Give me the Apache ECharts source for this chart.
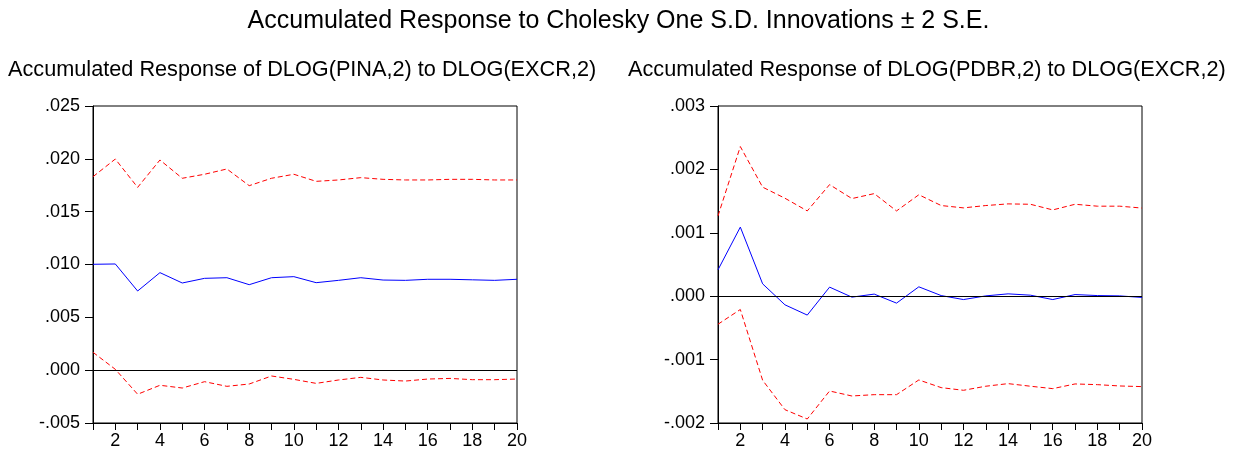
<!DOCTYPE html>
<html>
<head>
<meta charset="utf-8">
<script src="https://cdn.jsdelivr.net/npm/echarts@6/dist/echarts.min.js"></script>
<style>
  html, body { margin: 0; padding: 0; background: #fff; }
  #chart { width: 1237px; height: 451px; }
</style>
</head>
<body>
<div id="chart"></div>
<script>
var periods = [1, 2, 3, 4, 5, 6, 7, 8, 9, 10, 11, 12, 13, 14, 15, 16, 17, 18, 19, 20];

// DLOG(PINA,2) to DLOG(EXCR,2)
var pinaResp = [0.01002, 0.01005, 0.00749, 0.00923, 0.00825, 0.00869, 0.00875, 0.00809, 0.00875, 0.00885,
  0.00828, 0.0085, 0.00875, 0.00853, 0.0085, 0.0086, 0.0086, 0.00855, 0.0085, 0.0086];
var pinaUpper = [0.01831, 0.01998, 0.0173, 0.01989, 0.01816, 0.01854, 0.01904, 0.01746, 0.01816, 0.01854,
  0.01787, 0.018, 0.01822, 0.01806, 0.018, 0.018, 0.01806, 0.01806, 0.018, 0.018];
var pinaLower = [0.00169, 0.00008, -0.00228, -0.00143, -0.00169, -0.00109, -0.00153, -0.00131, -0.00055, -0.00087,
  -0.00125, -0.00093, -0.00068, -0.00093, -0.00103, -0.00084, -0.00078, -0.0009, -0.0009, -0.00084];

// DLOG(PDBR,2) to DLOG(EXCR,2)
var pdbrResp = [0.000416, 0.00109, 0.000195, -0.000136, -0.000298, 0.000143, -0.000015, 0.000033, -0.000109, 0.000148,
  0.00001, -0.000053, 0.000005, 0.000037, 0.000016, -0.000053, 0.000026, 0.00001, 0.000005, -0.00002];
var pdbrUpper = [0.001267, 0.00236, 0.00172, 0.001545, 0.001345, 0.00176, 0.00154, 0.001618, 0.001345, 0.0016,
  0.00143, 0.001393, 0.00143, 0.001456, 0.00145, 0.001361, 0.00145, 0.00142, 0.00142, 0.00139];
var pdbrLower = [-0.000442, -0.00021, -0.001326, -0.00179, -0.001937, -0.001495, -0.001574, -0.001553, -0.001553, -0.001321,
  -0.001442, -0.001484, -0.00142, -0.001379, -0.00142, -0.001458, -0.001384, -0.001395, -0.001416, -0.001426];

var mainTitle = 'Accumulated Response to Cholesky One S.D. Innovations \u00b1 2 S.E.';
var leftTitle = 'Accumulated Response of DLOG(PINA,2) to DLOG(EXCR,2)';
var rightTitle = 'Accumulated Response of DLOG(PDBR,2) to DLOG(EXCR,2)';

var font = '"Liberation Sans", Arial, sans-serif';

function pairs(ys) {
  return ys.map(function(v, i) { return [periods[i], v]; });
}

function yFmt(v) {
  var s = Math.abs(v).toFixed(3).replace(/^0/, '');
  return (v < -1e-9 ? '-' : '') + s;
}

function xAxis(idx) {
  return {
    gridIndex: idx, type: 'value', min: 1, max: 20, interval: 1,
    axisLine: { show: true, onZero: false, lineStyle: { color: '#000', width: 1 } },
    axisTick: { show: true, inside: false, length: 7, lineStyle: { color: '#000' } },
    axisLabel: {
      color: '#000', fontSize: 18, fontFamily: font, margin: 9,
      formatter: function(v) { return v % 2 === 0 ? String(v) : ''; }
    },
    splitLine: { show: false }
  };
}

function yAxis(idx, lo, hi, step) {
  return {
    gridIndex: idx, type: 'value', min: lo, max: hi, interval: step,
    axisLine: { show: true, onZero: false, lineStyle: { color: '#000', width: 1 } },
    axisTick: { show: true, inside: false, length: 8, lineStyle: { color: '#000' } },
    axisLabel: { color: '#000', fontSize: 18, fontFamily: font, margin: 13, formatter: yFmt },
    splitLine: { show: false }
  };
}

function band(idx, data) {
  return {
    type: 'line', xAxisIndex: idx, yAxisIndex: idx, data: pairs(data),
    symbol: 'none', silent: true,
    lineStyle: { color: '#ff0000', width: 1, type: [5, 3] }
  };
}

function resp(idx, data) {
  return {
    type: 'line', xAxisIndex: idx, yAxisIndex: idx, data: pairs(data),
    symbol: 'none', silent: true,
    lineStyle: { color: '#0000ff', width: 1 },
    markLine: {
      silent: true, symbol: 'none', label: { show: false },
      lineStyle: { color: '#000', width: 1, type: 'solid' },
      data: [{ yAxis: 0 }]
    }
  };
}

var chart = echarts.init(document.getElementById('chart'), null, { renderer: 'canvas' });
chart.setOption({
  animation: false,
  backgroundColor: '#fff',
  title: [
    { text: mainTitle, left: 'center', top: 4,
      textStyle: { color: '#000', fontSize: 25, fontWeight: 'normal', fontFamily: font } },
    { text: leftTitle, left: 3, top: 54,
      textStyle: { color: '#000', fontSize: 21.7, fontWeight: 'normal', fontFamily: font } },
    { text: rightTitle, left: 623, top: 54,
      textStyle: { color: '#000', fontSize: 21.7, fontWeight: 'normal', fontFamily: font } }
  ],
  grid: [
    { left: 93, top: 106, width: 424, height: 317, show: true, borderColor: '#000', borderWidth: 1, backgroundColor: '#fff' },
    { left: 718, top: 106, width: 424, height: 317, show: true, borderColor: '#000', borderWidth: 1, backgroundColor: '#fff' }
  ],
  xAxis: [xAxis(0), xAxis(1)],
  yAxis: [yAxis(0, -0.005, 0.025, 0.005), yAxis(1, -0.002, 0.003, 0.001)],
  series: [
    resp(0, pinaResp), band(0, pinaUpper), band(0, pinaLower),
    resp(1, pdbrResp), band(1, pdbrUpper), band(1, pdbrLower)
  ]
});
</script>
</body>
</html>
